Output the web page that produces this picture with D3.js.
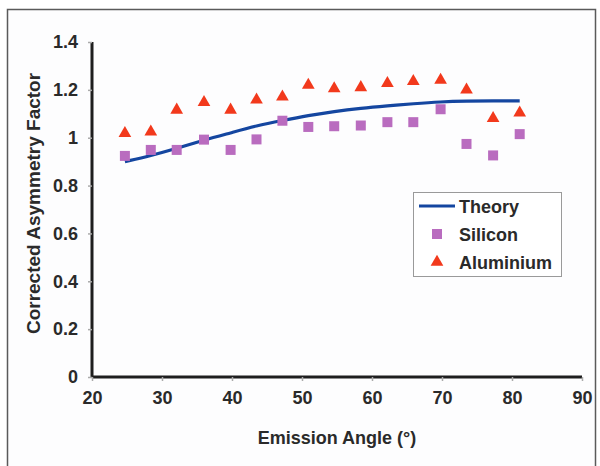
<!DOCTYPE html>
<html>
<head>
<meta charset="UTF-8">
<script src="https://d3js.org/d3.v7.min.js"></script>
<style>
    body { margin: 0; background: #fff; }
    svg { display: block; font-family: "Liberation Sans", Arial, sans-serif; }
</style>
</head>
<body>
<svg width="600" height="466"></svg>
<script>
    // emission angles (deg) of the measurements
    const angles = [24.7, 28.4, 32.1, 36.0, 39.8, 43.5, 47.2, 50.9, 54.6, 58.4, 62.2, 65.9, 69.8, 73.5, 77.3, 81.1];
    const theory = [0.90, 0.925, 0.955, 0.99, 1.02, 1.05, 1.072, 1.093, 1.11, 1.123, 1.133, 1.142, 1.150, 1.153, 1.154, 1.154];
    const silicon = [0.924, 0.949, 0.949, 0.992, 0.949, 0.993, 1.071, 1.045, 1.048, 1.051, 1.065, 1.065, 1.119, 0.974, 0.926, 1.015];
    const aluminium = [1.018, 1.025, 1.116, 1.148, 1.116, 1.158, 1.171, 1.220, 1.205, 1.210, 1.227, 1.236, 1.241, 1.200, 1.081, 1.104];
    const xTicks = [20, 30, 40, 50, 60, 70, 80, 90];
    const yTicks = [0, 0.2, 0.4, 0.6, 0.8, 1, 1.2, 1.4];

    const svg = d3.select("svg");

    // frame
    svg.append("rect")
        .attr("x", 7.5).attr("y", 9.5)
        .attr("width", 588).attr("height", 470)
        .attr("fill", "#fdfdfe")
        .attr("stroke", "#5a5a5a")
        .attr("stroke-width", 1.5);

    const x = d3.scaleLinear().domain([20, 90]).range([92, 582]);
    const y = d3.scaleLinear().domain([0, 1.4]).range([377, 42]);

    // axes
    const xAxis = svg.append("g")
        .attr("transform", `translate(0,${y(0)})`)
        .call(d3.axisBottom(x).tickValues(xTicks).tickSize(4).tickPadding(10).tickFormat(d3.format("d")));
    const yAxis = svg.append("g")
        .attr("transform", `translate(${x(20)},0)`)
        .call(d3.axisLeft(y).tickValues(yTicks).tickSize(4).tickPadding(10).tickFormat(d => d3.format("")(+d.toFixed(1))));

    [xAxis, yAxis].forEach(g => {
        g.select(".domain").attr("stroke", "#1e1e1e").attr("stroke-width", 3);
        g.selectAll(".tick line").attr("stroke", "#aaa").attr("stroke-width", 1.5);
        g.selectAll(".tick text")
            .attr("fill", "#2a2a2a")
            .attr("font-size", 18)
            .attr("font-weight", "bold");
    });
    xAxis.select(".domain").attr("d", `M${x(20)},0H${x(90)}`);
    yAxis.select(".domain").attr("d", `M0,${y(1.4)}V${y(0)}`);

    // axis titles
    svg.append("text")
        .attr("x", (x(20) + x(90)) / 2).attr("y", 444)
        .attr("text-anchor", "middle")
        .attr("font-size", 18).attr("font-weight", "bold").attr("fill", "#2a2a2a")
        .text("Emission Angle (°)");
    svg.append("text")
        .attr("transform", `translate(40,${(y(0) + y(1.4)) / 2 - 6}) rotate(-90)`)
        .attr("text-anchor", "middle")
        .attr("font-size", 19).attr("font-weight", "bold").attr("fill", "#2a2a2a")
        .text("Corrected Asymmetry Factor");

    // theory curve
    const line = d3.line()
        .x((d, i) => x(angles[i]))
        .y(d => y(d))
        .curve(d3.curveBasis);
    svg.append("path")
        .datum(theory)
        .attr("d", line)
        .attr("fill", "none")
        .attr("stroke", "#1446a0")
        .attr("stroke-width", 3.2);

    const sq = 10;
    const squareColor = "#b96cbf";
    const triColor = "#f2391c";
    const tri = d3.symbol().type(d3.symbolTriangle).size(70);

    svg.append("g").selectAll("rect")
        .data(silicon)
        .join("rect")
        .attr("x", (d, i) => x(angles[i]) - sq / 2)
        .attr("y", d => y(d) - sq / 2)
        .attr("width", sq).attr("height", sq)
        .attr("fill", squareColor);

    svg.append("g").selectAll("path")
        .data(aluminium)
        .join("path")
        .attr("d", tri)
        .attr("transform", (d, i) => `translate(${x(angles[i])},${y(d)})`)
        .attr("fill", triColor);

    // legend
    const lg = svg.append("g");
    lg.append("rect")
        .attr("x", 413.5).attr("y", 192.5)
        .attr("width", 148).attr("height", 84)
        .attr("fill", "#fff")
        .attr("stroke", "#9a9a9a").attr("stroke-width", 1);
    lg.append("line")
        .attr("x1", 419).attr("x2", 455).attr("y1", 206).attr("y2", 206)
        .attr("stroke", "#1446a0").attr("stroke-width", 3.2);
    lg.append("rect")
        .attr("x", 437 - sq / 2).attr("y", 234 - sq / 2)
        .attr("width", sq).attr("height", sq)
        .attr("fill", squareColor);
    lg.append("path")
        .attr("d", tri)
        .attr("transform", "translate(437,262)")
        .attr("fill", triColor);
    const labels = ["Theory", "Silicon", "Aluminium"];
    lg.selectAll("text")
        .data(labels)
        .join("text")
        .attr("x", 459)
        .attr("y", (d, i) => 213 + i * 28)
        .attr("font-size", 18).attr("font-weight", "bold").attr("fill", "#2a2a2a")
        .text(d => d);
</script>
</body>
</html>
